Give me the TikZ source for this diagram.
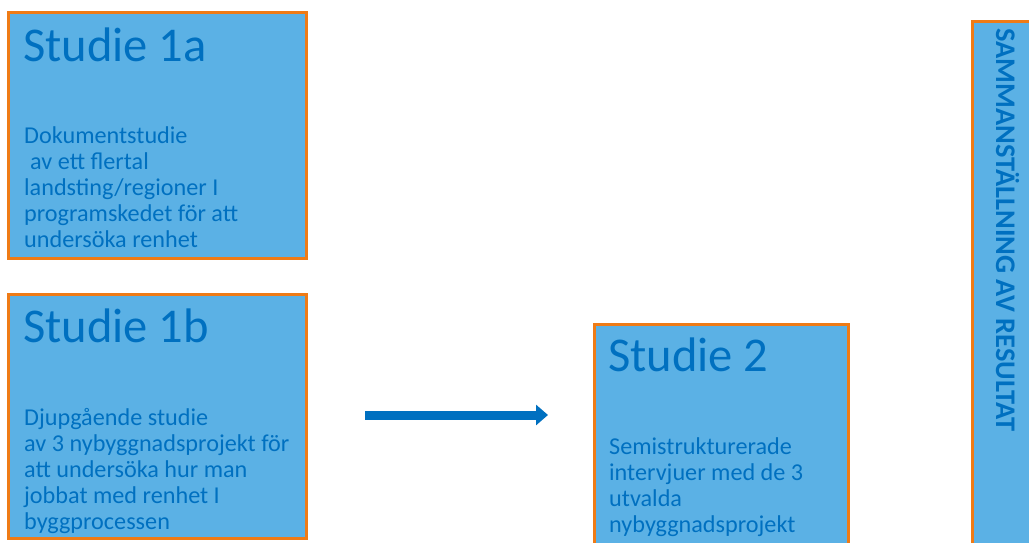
\documentclass[tikz,border=0pt]{standalone}
\usepackage{fontspec}
\setmainfont{Carlito}
\usetikzlibrary{arrows.meta}
\definecolor{boxfill}{HTML}{5BB1E5}
\definecolor{boxedge}{HTML}{EF7B16}
\definecolor{textblue}{HTML}{0070C0}
\begin{document}
\begin{tikzpicture}[x=1pt,y=-1pt,
  studybox/.style={draw=boxedge, line width=3pt, fill=boxfill, inner sep=0pt, rectangle},
  titletext/.style={anchor=base west, inner sep=0pt, text=textblue, font=\fontsize{48.5}{52}\selectfont},
  bodytext/.style={anchor=base west, inner sep=0pt, text=textblue, align=left, font=\fontsize{24.2}{26}\selectfont},
  sidetext/.style={anchor=base west, inner sep=0pt, text=textblue, rotate=-90, font=\bfseries\fontsize{28.4}{30}\selectfont}]
\useasboundingbox (0,0) rectangle (1029,542);
\clip (0,0) rectangle (1029,542);
\fill[white] (0,0) rectangle (1029,542);

% study boxes
\node[studybox, minimum width=298pt, minimum height=246pt] (s1a) at (157.5,135) {};
\node[studybox, minimum width=298pt, minimum height=244pt] (s1b) at (157.5,416.5) {};
\node[studybox, minimum width=254pt, minimum height=260pt] (s2) at (721,454) {};
\node[studybox, minimum width=100pt, minimum height=560pt] (sum) at (1022.5,301.5) {};

% titles
\node[titletext] (t1a) at (23,61) {Studie 1a};
\node[titletext] (t1b) at (23,342) {Studie 1b};
\node[titletext] (t2) at (608,371) {Studie 2};

% descriptions (anchored on the baseline of the last line)
\node[bodytext] (b1a) at (24,247) {Dokumentstudie\\\hspace{0.25em}av ett flertal\\landsting/regioner I\\programskedet för att\\undersöka renhet};
\node[bodytext] (b1b) at (24,529) {Djupgående studie\\av 3 nybyggnadsprojekt för\\att undersöka hur man\\jobbat med renhet I\\byggprocessen};
\node[bodytext] (b2) at (609,532) {Semistrukturerade\\intervjuer med de 3\\utvalda\\nybyggnadsprojekt};

% vertical summary label
\node[sidetext] (lsum) at (996,28) {SAMMANSTÄLLNING AV RESULTAT};

% arrow from study 1 towards study 2
\coordinate (afrom) at (365,415);
\coordinate (ato) at (548,415);
\draw[textblue, line width=9pt, -{Triangle[width=20pt,length=12pt]}] (afrom) -- (ato);
\end{tikzpicture}
\end{document}
